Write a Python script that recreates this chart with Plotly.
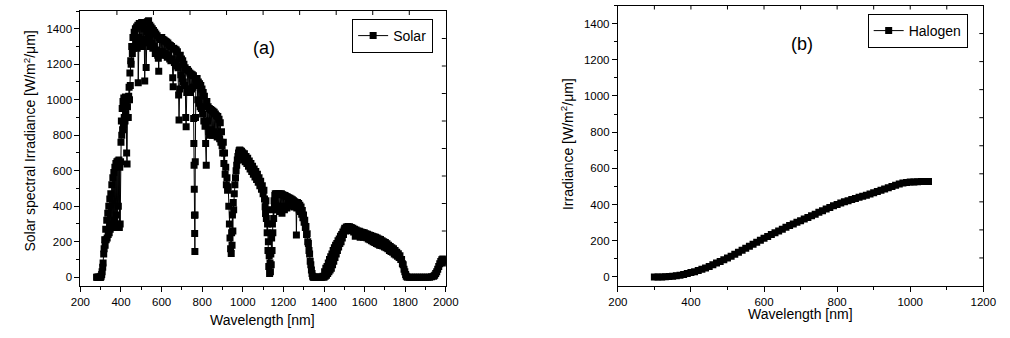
import plotly.graph_objects as go

# ---------------- data (by spectral region) ----------------
uv_wl = [280, 283, 286, 289, 292, 295, 298, 300, 302, 305, 307, 310, 312, 315, 317, 320, 322, 325, 327, 330,
         332, 335, 337, 340, 342, 345, 347, 350, 352, 355, 357, 360, 362, 365, 367, 370, 372, 375, 377, 380,
         382, 385, 387, 390, 392, 394, 396, 398]
uv_irr = [0, 0, 0, 0, 0, 0, 0, 0, 5, 15, 30, 55, 80, 130, 160, 210, 180, 270, 210, 320,
          220, 360, 240, 400, 250, 440, 270, 470, 290, 520, 300, 560, 280, 590, 320, 620, 290, 640, 350, 650,
          300, 655, 400, 660, 280, 620, 300, 650]

blue_wl = [400, 402, 404, 406, 408, 410, 412, 414, 416, 418, 420, 422, 424, 426, 428, 430, 432, 434, 436, 438,
           440, 442, 444, 446, 448]
blue_irr = [760, 880, 800, 950, 830, 990, 860, 1010, 900, 1000, 880, 1015, 920, 990, 700, 637, 960, 1000, 900, 1020,
            1070, 1000, 1150, 1080, 1220]

vis_wl = [450, 453, 456, 459, 462, 465, 468, 471, 474, 477, 480, 483, 485, 487, 490, 493, 496, 499, 502, 505,
          508, 511, 514, 517, 519, 521, 524, 527, 530, 533, 536, 539, 542, 545, 548, 551, 554, 557, 560, 563,
          566, 569, 572, 575, 578, 581, 584, 586, 589, 592, 595, 598, 601, 604, 607, 610, 613, 616, 619, 622,
          625, 628, 631, 634, 637, 640, 643, 646, 649, 652, 655, 657, 660, 663, 666, 669, 672, 675, 678, 681,
          684, 686, 689, 692, 695, 698, 701, 704, 707, 710, 713, 716, 719, 721, 724, 727, 730, 733, 736, 739,
          742, 745, 748, 751, 754, 757]
vis_irr = [1200, 1300, 1260, 1350, 1290, 1380, 1300, 1400, 1320, 1410, 1290, 1420, 1095, 1350, 1430, 1300, 1420, 1330, 1435, 1300,
           1420, 1340, 1400, 1105, 1330, 1400, 1182, 1380, 1440, 1320, 1445, 1350, 1420, 1300, 1410, 1320, 1400, 1290, 1390, 1300,
           1380, 1260, 1370, 1280, 1360, 1250, 1233, 1161, 1350, 1270, 1340, 1260, 1350, 1270, 1340, 1250, 1335, 1260, 1330, 1250,
           1325, 1240, 1320, 1250, 1310, 1230, 1305, 1220, 1300, 1230, 1124, 1073, 1290, 1210, 1285, 1200, 1280, 1190, 1270, 1180,
           1026, 885, 1060, 1250, 1140, 1230, 1120, 1220, 1100, 1200, 1080, 1180, 900, 847, 1040, 1170, 1050, 1160, 1060, 1150,
           1040, 1145, 1060, 1140, 1070, 1135]

o2_wl = [758, 759, 760, 761, 762, 763, 764, 765, 766, 767, 769]
o2_irr = [894, 753, 631, 496, 349, 246, 145, 350, 650, 900, 1100]

red_wl = [772, 775, 778, 781, 784, 787, 790, 793, 796, 799, 802, 805, 808, 811, 814, 817, 820, 823, 826, 829,
          832, 835, 838, 841, 844, 847, 850, 853, 856, 859, 862, 865, 868, 871, 874, 877, 880, 883, 886, 889,
          892, 895]
red_irr = [1080, 1120, 1000, 1100, 980, 1090, 960, 1080, 950, 1060, 920, 1040, 880, 1020, 850, 753, 631, 990, 880, 960,
           820, 950, 800, 945, 830, 940, 800, 935, 820, 930, 800, 920, 810, 910, 790, 905, 800, 890, 780, 870,
           760, 820]

nir1_wl = [898, 901, 904, 907, 910, 913, 916, 919, 922, 925, 928, 931, 934, 937, 940, 943, 945, 947, 949, 951,
           953, 955, 958, 961, 964, 967, 970, 973, 976, 979, 982, 985, 988, 991, 994, 997]
nir1_irr = [740, 700, 760, 640, 700, 580, 620, 520, 560, 490, 510, 400, 300, 220, 160, 133, 250, 180, 350, 260,
            420, 380, 470, 520, 560, 600, 630, 660, 680, 700, 712, 716, 712, 705, 710, 700]

nir2_wl = [1000, 1004, 1008, 1012, 1016, 1020, 1024, 1028, 1032, 1036, 1040, 1044, 1048, 1052, 1056, 1060, 1064, 1068, 1072, 1076,
           1080, 1084, 1088, 1092, 1096, 1100, 1104, 1107, 1110, 1112]
nir2_irr = [700, 660, 695, 650, 680, 640, 670, 625, 655, 610, 640, 595, 625, 580, 610, 565, 595, 550, 580, 535,
            560, 515, 540, 495, 515, 470, 490, 440, 396, 359]

dip2_wl = [1114, 1116, 1118, 1120, 1122, 1124, 1126, 1128, 1130, 1132, 1134, 1136, 1138, 1140, 1142, 1144, 1146, 1148, 1150, 1152,
           1154, 1156, 1158]
dip2_irr = [430, 330, 380, 250, 300, 150, 200, 60, 120, 20, 80, 30, 130, 70, 220, 150, 300, 250, 380, 330,
            430, 400, 460]

nir3_wl = [1160, 1163, 1166, 1169, 1172, 1175, 1178, 1181, 1184, 1187, 1190, 1193, 1196, 1199, 1202, 1205, 1208, 1211, 1214, 1217,
           1220, 1223, 1226, 1229, 1232, 1235, 1238, 1241, 1244, 1247, 1250, 1253, 1256, 1259, 1262, 1264, 1266, 1269, 1272, 1275,
           1278, 1281, 1284, 1287, 1290, 1293, 1296, 1299, 1302, 1305, 1308, 1311, 1314, 1317, 1320, 1323, 1326, 1329, 1332, 1335,
           1338, 1341, 1344, 1347]
nir3_irr = [470, 400, 470, 380, 468, 400, 470, 370, 468, 390, 470, 360, 465, 400, 462, 380, 460, 400, 455, 390,
            452, 410, 448, 420, 445, 410, 440, 400, 436, 405, 430, 395, 425, 400, 415, 237, 390, 420, 395, 415,
            380, 405, 370, 395, 355, 375, 335, 350, 310, 320, 280, 285, 240, 245, 200, 190, 150, 130, 90, 70,
            40, 20, 5, 0]

gap1_wl = [1350, 1355, 1360, 1365, 1370, 1375, 1380, 1385, 1390, 1395, 1400, 1403, 1406, 1409, 1412, 1415, 1418, 1421, 1424, 1427,
           1430, 1433, 1436, 1439, 1442, 1445, 1448, 1451, 1454, 1457, 1460, 1463, 1466, 1469, 1472, 1475, 1478, 1481, 1484, 1487,
           1490, 1493, 1496, 1499]
gap1_irr = [0, 0, 0, 0, 0, 0, 0, 0, 0, 5, 0, 30, 5, 50, 10, 60, 20, 80, 30, 100,
            40, 115, 50, 130, 70, 150, 90, 165, 110, 180, 130, 190, 150, 205, 170, 215, 190, 230, 200, 240,
            220, 255, 240, 265]

swir_wl = [1502, 1506, 1510, 1514, 1518, 1522, 1526, 1530, 1534, 1538, 1542, 1546, 1550, 1554, 1558, 1562, 1566, 1570, 1574, 1578,
           1582, 1586, 1590, 1594, 1598, 1602, 1606, 1610, 1614, 1618, 1622, 1626, 1630, 1634, 1638, 1642, 1646, 1650, 1654, 1658,
           1662, 1666, 1670, 1674, 1678, 1682, 1686, 1690, 1694, 1698, 1702, 1706, 1710, 1714, 1718, 1722, 1726, 1730, 1734, 1738,
           1742, 1746, 1750, 1754, 1758, 1762, 1766, 1770, 1774, 1778, 1782, 1786, 1790, 1794, 1798, 1802]
swir_irr = [275, 260, 282, 268, 285, 270, 284, 265, 280, 262, 276, 255, 270, 230, 265, 245, 260, 235, 258, 225,
            255, 235, 252, 225, 250, 228, 245, 222, 242, 215, 238, 210, 235, 205, 230, 200, 228, 195, 225, 190,
            220, 185, 215, 180, 212, 178, 205, 175, 200, 170, 195, 165, 188, 160, 180, 150, 172, 145, 165, 140,
            160, 130, 150, 125, 140, 118, 132, 110, 120, 100, 100, 75, 70, 45, 30, 15]

gap2_wl = [1805, 1810, 1820, 1830, 1840, 1850, 1860, 1870, 1880, 1890, 1900, 1910, 1920, 1930, 1940, 1945, 1950, 1955, 1960, 1965,
           1970, 1975, 1980, 1985, 1990, 1995, 2000]
gap2_irr = [5, 0, 0, 0, 0, 0, 0, 0, 0, 0, 0, 0, 0, 2, 5, 10, 20, 30, 45, 60,
            75, 88, 98, 102, 98, 90, 80]

solar_wl = uv_wl + blue_wl + vis_wl + o2_wl + red_wl + nir1_wl + nir2_wl + dip2_wl + nir3_wl + gap1_wl + swir_wl + gap2_wl
solar_irr = uv_irr + blue_irr + vis_irr + o2_irr + red_irr + nir1_irr + nir2_irr + dip2_irr + nir3_irr + gap1_irr + swir_irr + gap2_irr

halogen_wl = [300, 310, 320, 330, 340, 350, 360, 370, 380, 390, 400, 410, 420, 430, 440, 450, 460, 470, 480, 490,
              500, 510, 520, 530, 540, 550, 560, 570, 580, 590, 600, 610, 620, 630, 640, 650, 660, 670, 680, 690,
              700, 710, 720, 730, 740, 750, 760, 770, 780, 790, 800, 810, 820, 830, 840, 850, 860, 870, 880, 890,
              900, 910, 920, 930, 940, 950, 960, 970, 980, 990, 1000, 1010, 1020, 1030, 1040, 1050]
halogen_irr = [0, 0, 0, 1, 2, 4, 7, 10, 14, 19, 24, 29, 35, 42, 50, 58, 67, 77, 86, 95,
               105, 115, 126, 137, 148, 158, 170, 181, 192, 203, 214, 224, 234, 244, 254, 264, 274, 284, 293, 302,
               311, 320, 329, 338, 347, 357, 366, 375, 384, 393, 401, 408, 415, 421, 428, 434, 440, 446, 452, 458,
               465, 472, 479, 486, 493, 500, 507, 514, 519, 522, 524, 525, 526, 527, 527, 527]

x_ticks_a = [200, 400, 600, 800, 1000, 1200, 1400, 1600, 1800, 2000]
x_ticks_b = [200, 400, 600, 800, 1000, 1200]
y_ticks = [0, 200, 400, 600, 800, 1000, 1200, 1400]

# ---------------- layout geometry ----------------
W, H = 1010, 338
def px(x):
    return x / W
def py(y):
    return 1 - y / H

FONT = "Liberation Sans, Arial, sans-serif"
dom_xa = [px(72), px(446)]
dom_ya = [py(286), py(11)]
dom_xb = [px(622), px(996)]
dom_yb = [py(286), py(5.5)]

fig = go.Figure()

mk = dict(symbol="square", size=7, color="black", line=dict(width=0))
fig.add_trace(go.Scatter(
    x=solar_wl, y=solar_irr, mode="lines+markers", name="Solar",
    line=dict(color="black", width=1), marker=mk,
    xaxis="x", yaxis="y", legend="legend"))

fig.add_trace(go.Scatter(
    x=halogen_wl, y=halogen_irr, mode="lines+markers", name="Halogen",
    line=dict(color="black", width=1), marker=mk,
    xaxis="x2", yaxis="y2", legend="legend2"))

tickfont = dict(family=FONT, size=11.5, color="black")
common = dict(showgrid=False, zeroline=False, showline=True, linecolor="black", linewidth=1, mirror=True,
              ticks="outside", ticklen=5, tickwidth=1, tickcolor="black", tickfont=tickfont)
minor = dict(ticks="outside", ticklen=3, tickwidth=1, tickcolor="black", dtick=100, showgrid=False)

fig.update_layout(
    width=W, height=H, margin=dict(l=0, r=0, t=0, b=0, pad=0),
    paper_bgcolor="white", plot_bgcolor="white",
    font=dict(family=FONT, color="black"),
    xaxis=dict(domain=dom_xa, anchor="y", range=[200, 2000], tickmode="array", tickvals=x_ticks_a,
               minor=minor, **common),
    yaxis=dict(domain=dom_ya, anchor="x", range=[-50, 1500], tickmode="array", tickvals=y_ticks,
               minor=minor, **common),
    xaxis2=dict(domain=dom_xb, anchor="y2", range=[200, 1200], tickmode="array", tickvals=x_ticks_b,
                minor=minor, **common),
    yaxis2=dict(domain=dom_yb, anchor="x2", range=[-50, 1500], tickmode="array", tickvals=y_ticks,
                minor=minor, **common),
    legend=dict(x=px(433), y=py(36), xanchor="right", yanchor="middle", bgcolor="white",
                bordercolor="black", borderwidth=1, font=dict(family=FONT, size=14, color="black"),
                itemwidth=30, tracegroupgap=0),
    legend2=dict(x=px(980), y=py(31), xanchor="right", yanchor="middle", bgcolor="white",
                 bordercolor="black", borderwidth=1, font=dict(family=FONT, size=14, color="black"),
                 itemwidth=30, tracegroupgap=0),
    showlegend=True,
)

# inward frame ticks on the top and right edges (10 equal divisions, as in the original frame)
frame_fracs = [0.1, 0.2, 0.3, 0.4, 0.5, 0.6, 0.7, 0.8, 0.9]
for xr, yr in [("x domain", "y domain"), ("x2 domain", "y2 domain")]:
    for f in frame_fracs:
        fig.add_shape(type="line", xref=xr, yref=yr, x0=f, x1=f, ysizemode="pixel", yanchor=1, y0=0, y1=-4,
                      line=dict(color="black", width=1), layer="above")
        fig.add_shape(type="line", xref=xr, yref=yr, y0=f, y1=f, xsizemode="pixel", xanchor=1, x0=0, x1=-4,
                      line=dict(color="black", width=1), layer="above")

ann = [
    dict(text="Solar spectral Irradiance [W/m<sup>2</sup>/μm]", x=px(20), y=py(141), textangle=-90, size=14),
    dict(text="Wavelength [nm]", x=px(258), y=py(320), textangle=0, size=14),
    dict(text="Irradiance [W/m<sup>2</sup>/μm]", x=px(570), y=py(144), textangle=-90, size=14),
    dict(text="Wavelength [nm]", x=px(809), y=py(314), textangle=0, size=14),
    dict(text="(a)", x=px(260), y=py(48), textangle=0, size=18),
    dict(text="(b)", x=px(810), y=py(44), textangle=0, size=18),
]
for a in ann:
    fig.add_annotation(text=a["text"], x=a["x"], y=a["y"], xref="paper", yref="paper",
                       xanchor="center", yanchor="middle", textangle=a["textangle"], showarrow=False,
                       font=dict(family=FONT, size=a["size"], color="black"))

fig.write_html("out.html", config={"displayModeBar": False},
               post_script="document.body.style.margin='0';document.body.style.overflow='hidden';")
